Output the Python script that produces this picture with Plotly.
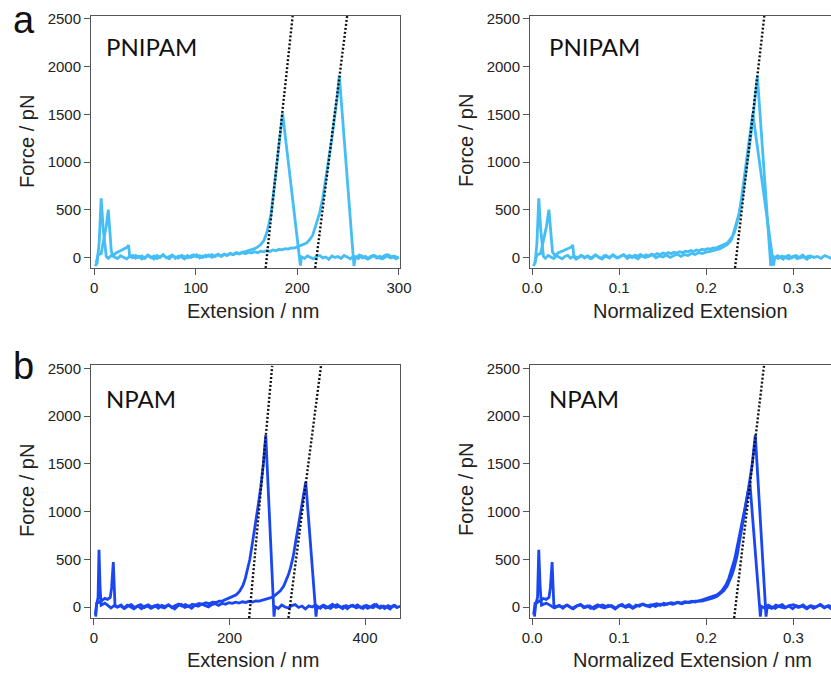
import plotly.graph_objects as go

# ---------------- data ----------------
# PNIPAM, curve A (rupture ~1500 pN)
pnipam_a_ext = [2, 4, 7, 10, 12, 14, 17, 19, 22, 26, 30, 33, 34, 35,
                38, 41, 44, 47, 50, 53, 56, 59, 62, 65, 68, 71, 74, 77, 80, 83, 86, 89, 92, 95,
                98, 101, 104, 107, 110, 113, 116, 119, 122, 125, 128, 131, 134, 137, 140, 143,
                146, 149, 152, 155, 158, 161, 164, 167, 170,
                172, 174, 176, 178, 180, 182, 184, 185.5,
                203, 204, 207, 210, 213, 216, 219, 222, 225, 228, 231, 234, 237, 240, 243, 246,
                249, 252, 255, 258, 261, 264, 267, 270, 273, 276, 279, 282, 285, 288, 291, 294,
                297, 300]
pnipam_a_force = [-60, 30, 40, 200, 330, 500, 60, 20, 50, 70, 90, 110, 130, 15,
                  -5, 20, 0, 15, -10, 25, 5, -15, 20, 0, 28, -5, 10, 25, -10, 15, 5, -15, 20, 0,
                  10, 28, -5, 15, 5, 25, 0, 20, 35, 10, 30, 20, 42, 30, 50, 40,
                  55, 60, 68, 80, 92, 110, 135, 175, 260,
                  350, 450, 620, 800, 1000, 1200, 1380, 1510,
                  -85, 5, -10, 15, 0, -15, 10, 20, -5, 5, -20, 15, 0, 10, -10, 20,
                  5, -15, 10, 0, 25, -5, 10, -15, 5, 20, 0, -10, 15, 28, -5, 10,
                  -15, 5]

# PNIPAM, curve B (rupture ~1900 pN)
pnipam_b_ext = [1, 3, 5, 7, 9, 12, 14,
                17, 20, 23, 26, 29, 32, 35, 38, 41, 44, 47, 50, 53, 56, 59, 62, 65, 68, 71, 74,
                77, 80, 83, 86, 89, 92, 95, 98, 101, 104, 107, 110, 113, 116, 119, 122, 125, 128,
                131, 134, 137, 140, 143, 146, 149, 152, 155, 158, 161, 164, 167, 170, 173, 176,
                179, 182, 185, 188, 191, 194, 197,
                200, 203, 206, 209, 212, 215, 218, 222, 225, 228, 231, 234, 237, 239.5, 241.3,
                255.7, 257, 260, 263, 266, 269, 272, 275, 278, 281, 284, 287, 290, 293, 296, 299]
pnipam_b_force = [-90, -60, 150, 620, 300, 10, -10,
                  20, 5, -12, 18, 0, -15, 10, 22, -8, 12, -18, 5, 20, -5, 15, -12, 8, 25, 0, -15,
                  18, 5, -8, 22, 10, -5, 15, 28, 5, 20, -2, 25, 12, 30, 8, 28, 18, 35,
                  22, 40, 28, 45, 35, 50, 38, 55, 45, 60, 50, 65, 58, 72, 62, 78,
                  70, 85, 80, 92, 88, 100, 98,
                  110, 118, 135, 150, 185, 230, 330, 470, 620, 820, 1020, 1250, 1500, 1700, 1905,
                  -90, 5, -12, 18, 0, -18, 10, 22, -6, 12, -15, 8, 25, -3, 14, -10]

# NPAM, curve A (rupture ~1800 pN)
npam_a_ext = [2.5, 4, 6, 7.4, 9, 10.5, 13, 16, 20,
              25, 30, 35, 40, 45, 50, 55, 60, 65, 70, 75, 80, 85, 90, 95, 100, 105, 110, 115,
              120, 125, 130, 135, 140, 145, 150, 155, 160, 165, 170, 175, 180, 185, 190, 195,
              200, 205, 210, 215,
              220, 223, 226, 230, 234, 238, 242, 246, 250, 253.5,
              265.7, 267, 272, 277, 282, 287, 292, 297, 302, 307, 312, 317, 322, 327, 332, 337,
              342, 347, 352, 357, 362, 367, 372, 377, 382, 387, 392, 397, 402, 407, 412, 417,
              422, 427, 432, 437, 442, 447, 452]
npam_a_force = [-100, 30, 100, 600, 200, 20, 30, 40, 20,
                -10, 15, 0, 20, -15, 10, 25, -5, 12, -18, 8, 22, 0, 15, -12, 18, 5, 25, -8,
                15, 30, 10, 25, 5, 30, 20, 38, 28, 45, 35, 50, 48, 62, 65, 80,
                92, 108, 128, 165,
                230, 290, 370, 500, 680, 850, 1050, 1250, 1500, 1800,
                -100, 5, -15, 20, 0, -10, 15, 25, -5, 10, -20, 12, 0, 22, -8, 15,
                -12, 5, 28, -3, 10, -18, 14, 0, 20, -10, 6, -15, 18, 3, -8, 25,
                -12, 10, 0, -20, 15, -5, 8]

# NPAM, curve B (rupture ~1300 pN)
npam_b_ext = [2, 4, 8, 12, 16, 20, 24, 26, 28.5, 31,
              34, 39, 44, 49, 54, 59, 64, 69, 74, 79, 84, 89, 94, 99, 104, 109, 114, 119, 124,
              129, 134, 139, 144, 149, 154, 159, 164, 169, 174, 179, 184, 189, 194, 199, 204,
              209, 214, 219, 224, 229, 234, 239, 244,
              250, 255, 260, 265, 270, 275, 280, 284, 287, 290, 294, 298, 302, 306, 309, 312.5,
              327.7, 329, 334, 339, 344, 349, 354, 359, 364, 369, 374, 379, 384, 389, 394, 399,
              404, 409, 414, 419, 424, 429, 434, 439, 444, 449]
npam_b_force = [-80, 40, 50, 70, 90, 80, 100, 200, 470, 20,
                0, 15, -12, 20, 5, -18, 10, 25, -5, 12, -15, 8, 22, 0, -10, 18, 5, -20, 14,
                28, -3, 10, -12, 20, 8, 30, 15, 2, 25, 35, 18, 40, 28, 45, 38,
                50, 42, 55, 48, 60, 52, 65, 62,
                72, 80, 95, 110, 140, 170, 220, 280, 340, 410, 530, 700, 880, 1060, 1190, 1310,
                -100, 8, -12, 20, 0, -15, 12, 25, -5, 10, -18, 15, 3, 22, -8, 12,
                -14, 6, 26, -2, 10, -16, 14, 0, 18, -10]

# contour lengths used for normalisation (nm)
pnipam_a_contour = 732
pnipam_b_contour = 933
npam_a_contour = 989
npam_b_contour = 1250

# fitted (dotted) lines: [ext0, ext1], [force0, force1]
pnipam_fit1_ext = [168.8, 195.4]
pnipam_fit2_ext = [217.6, 249.0]
pnipam_fit_force = [-111, 2531]
pnipam_norm_fit_ext = [0.233, 0.2667]
npam_fit1_ext = [229.0, 263.0]
npam_fit2_ext = [287.0, 335.0]
npam_fit_force = [-115, 2525]
npam_norm_fit_ext = [0.232, 0.2663]

force_ticks = [0, 500, 1000, 1500, 2000, 2500]
ext_ticks_top = [0, 100, 200, 300]
ext_ticks_bottom = [0, 200, 400]
norm_ticks = [0.0, 0.1, 0.2, 0.3]

for a, b in [(pnipam_a_ext, pnipam_a_force), (pnipam_b_ext, pnipam_b_force),
             (npam_a_ext, npam_a_force), (npam_b_ext, npam_b_force)]:
    assert len(a) == len(b), (len(a), len(b))

# ---------------- style ----------------
W, H = 831, 675
LIGHT = "#45bdf5"
DARK = "#1a47f2"
AXC = "#555555"
TXT = "#222222"


def fx(p):
    return p / W


def fy(p):
    return 1 - p / H


fig = go.Figure()


def curve(x, y, color, xa, ya):
    fig.add_trace(go.Scatter(x=x, y=y, mode="lines", xaxis=xa, yaxis=ya,
                             line=dict(color=color, width=2.8), showlegend=False,
                             hoverinfo="skip"))


def fit(x, y, xa, ya):
    fig.add_trace(go.Scatter(x=x, y=y, mode="lines", xaxis=xa, yaxis=ya,
                             line=dict(color="#111111", width=2.4, dash="2px,2px"),
                             showlegend=False, hoverinfo="skip"))


# panel 1 : PNIPAM extension
curve(pnipam_a_ext, pnipam_a_force, LIGHT, "x", "y")
curve(pnipam_b_ext, pnipam_b_force, LIGHT, "x", "y")
fit(pnipam_fit1_ext, pnipam_fit_force, "x", "y")
fit(pnipam_fit2_ext, pnipam_fit_force, "x", "y")
# panel 2 : PNIPAM normalized
curve([e / pnipam_a_contour for e in pnipam_a_ext], pnipam_a_force, LIGHT, "x2", "y2")
curve([e / pnipam_b_contour for e in pnipam_b_ext], pnipam_b_force, LIGHT, "x2", "y2")
fit(pnipam_norm_fit_ext, pnipam_fit_force, "x2", "y2")
# panel 3 : NPAM extension
curve(npam_a_ext, npam_a_force, DARK, "x3", "y3")
curve(npam_b_ext, npam_b_force, DARK, "x3", "y3")
fit(npam_fit1_ext, npam_fit_force, "x3", "y3")
fit(npam_fit2_ext, npam_fit_force, "x3", "y3")
# panel 4 : NPAM normalized
curve([e / npam_a_contour for e in npam_a_ext], npam_a_force, DARK, "x4", "y4")
curve([e / npam_b_contour for e in npam_b_ext], npam_b_force, DARK, "x4", "y4")
fit(npam_norm_fit_ext, npam_fit_force, "x4", "y4")

tickfont = dict(family="Liberation Sans, Arial, sans-serif", size=15, color=TXT)


def xax(dom, rng, ticks, anchor, fmt=None):
    d = dict(domain=dom, range=rng, tickvals=ticks, anchor=anchor, showline=True,
             linecolor=AXC, linewidth=1, mirror=True, ticks="outside", ticklen=6,
             tickcolor=AXC, tickwidth=1, showgrid=False, zeroline=False, tickfont=tickfont,
             automargin=False)
    if fmt:
        d["tickformat"] = fmt
    return d


def yax(dom, rng, anchor, mirror):
    return dict(domain=dom, range=rng, tickvals=force_ticks, anchor=anchor, showline=True,
                linecolor=AXC, linewidth=1, mirror=mirror, ticks="outside", ticklen=6,
                tickcolor=AXC, tickwidth=1, showgrid=False, zeroline=False, tickfont=tickfont,
                automargin=False)


top_dom = [fy(268), fy(16)]
bot_dom = [fy(618), fy(365)]
left_dom = [fx(91), fx(400)]
right_dom = [fx(530), 1.0]
norm_rng = [-0.0026, 0.3433]

fig.update_layout(
    width=W, height=H, autosize=False,
    margin=dict(l=0, r=0, t=0, b=0),
    paper_bgcolor="white", plot_bgcolor="white",
    xaxis=xax(left_dom, [-3, 301], ext_ticks_top, "y"),
    yaxis=yax(top_dom, [-111, 2531], "x", True),
    xaxis2=xax(right_dom, norm_rng, norm_ticks, "y2", ".1f"),
    yaxis2=yax(top_dom, [-111, 2531], "x2", False),
    xaxis3=xax(left_dom, [-4.4, 451.6], ext_ticks_bottom, "y3"),
    yaxis3=yax(bot_dom, [-115, 2535], "x3", True),
    xaxis4=xax(right_dom, norm_rng, norm_ticks, "y4", ".1f"),
    yaxis4=yax(bot_dom, [-115, 2535], "x4", False),
)

title_font = dict(family="Liberation Sans, Arial, sans-serif", size=20, color=TXT)
label_font = dict(family="Lato, sans-serif", size=24, color="#111111")
letter_font = dict(family="Liberation Sans, Arial, sans-serif", size=38, color="#111111")

ann = []


def text(t, px, py, font, angle=0, xanchor="center", yanchor="middle"):
    ann.append(dict(text=t, x=fx(px), y=fy(py), xref="paper", yref="paper",
                    showarrow=False, font=font, textangle=angle,
                    xanchor=xanchor, yanchor=yanchor))


text("Force / pN", 27, 141, title_font, -90)
text("Force / pN", 466, 141, title_font, -90)
text("Force / pN", 27, 490, title_font, -90)
text("Force / pN", 466, 490, title_font, -90)
text("Extension / nm", 253, 311, title_font)
text("Normalized Extension", 690, 311, title_font)
text("Extension / nm", 253, 660, title_font)
text("Normalized Extension / nm", 692, 660, title_font)
text("PNIPAM", 104, 47, label_font, xanchor="left")
text("PNIPAM", 547, 47, label_font, xanchor="left")
text("NPAM", 104, 398, label_font, xanchor="left")
text("NPAM", 547, 398, label_font, xanchor="left")
text("a", 11, 20, letter_font, xanchor="left")
text("b", 11, 366, letter_font, xanchor="left")

fig.update_layout(annotations=ann)

fig.write_html("out.html")
